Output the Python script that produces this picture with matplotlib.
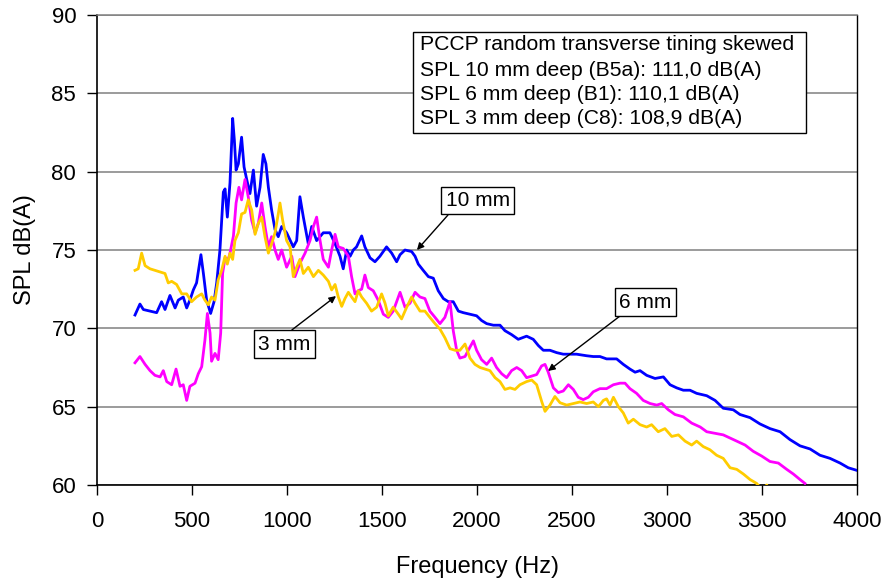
import matplotlib
matplotlib.use("Agg")
import matplotlib.pyplot as plt
from matplotlib.patches import Rectangle

plt.rcParams['font.family'] = ['Liberation Sans', 'DejaVu Sans']

# ---------------- data ----------------
freq_10mm = [200, 226, 244, 279, 314, 340, 358, 384, 411, 428,
             454, 472, 489, 507, 524, 547, 560, 577, 598, 616,
             630, 647, 665, 674, 686, 700, 714, 723, 732, 744,
             761, 774, 788, 805, 823, 840, 858, 875, 889, 902,
             919, 937, 954, 972, 998, 1033, 1051, 1068, 1086, 1112,
             1130, 1156, 1191, 1226, 1253, 1279, 1296, 1314, 1332, 1349,
             1366, 1393, 1410, 1437, 1463, 1489, 1524, 1551, 1577, 1595,
             1621, 1656, 1674, 1691, 1717, 1744, 1770, 1796, 1823, 1849,
             1875, 1902, 1928, 1963, 1998, 2024, 2051, 2086, 2121, 2147,
             2182, 2217, 2261, 2296, 2323, 2349, 2384, 2419, 2454, 2489,
             2524, 2577, 2612, 2647, 2682, 2735, 2770, 2805, 2832, 2858,
             2893, 2937, 2981, 3016, 3051, 3086, 3121, 3156, 3209, 3253,
             3296, 3349, 3384, 3437, 3489, 3542, 3595, 3647, 3700, 3753,
             3805, 3858, 3911, 3954, 3995]
spl_10mm = [70.85, 71.55, 71.2, 71.1, 71.0, 71.7, 71.2, 72.1, 71.3, 71.8,
            72.0, 71.3, 71.8, 72.45, 72.9, 74.7, 73.5, 71.8, 70.95, 71.7,
            72.9, 75.0, 78.7, 78.9, 77.1, 79.3, 83.4, 82.0, 80.1, 80.5,
            82.2, 80.3, 79.5, 78.6, 80.1, 77.8, 79.0, 81.1, 80.5, 79.0,
            77.55, 76.3, 75.85, 76.5, 76.1, 75.2, 75.6, 78.4, 77.1, 75.4,
            76.5, 75.6, 76.1, 76.1, 75.4, 74.6, 73.8, 75.0, 74.6, 75.0,
            75.2, 75.9, 75.2, 74.5, 74.25, 74.6, 75.2, 74.8, 74.25, 74.7,
            75.0, 74.9, 74.6, 74.1, 73.7, 73.3, 73.2, 72.4, 71.9, 71.7,
            71.7, 71.1, 71.0, 70.9, 70.8, 70.5, 70.3, 70.2, 70.2, 69.85,
            69.6, 69.3, 69.5, 69.3, 68.9, 68.6, 68.6, 68.45, 68.35, 68.35,
            68.35, 68.25, 68.2, 68.2, 68.05, 68.05, 67.7, 67.4, 67.2, 67.3,
            67.0, 66.8, 66.9, 66.4, 66.2, 66.05, 66.05, 65.85, 65.7, 65.4,
            64.9, 64.8, 64.5, 64.3, 63.9, 63.6, 63.4, 62.9, 62.5, 62.3,
            61.9, 61.7, 61.4, 61.1, 60.95]

freq_6mm = [200, 226, 253, 279, 305, 332, 349, 367, 393, 416,
            437, 454, 472, 489, 516, 533, 551, 568, 581, 595,
            603, 621, 638, 651, 661, 674, 691, 700, 718, 732,
            747, 761, 779, 796, 814, 832, 849, 867, 884, 902,
            919, 937, 954, 972, 998, 1025, 1042, 1068, 1095, 1121,
            1139, 1156, 1174, 1191, 1218, 1235, 1253, 1270, 1296, 1323,
            1340, 1358, 1375, 1393, 1410, 1428, 1454, 1480, 1507, 1533,
            1559, 1595, 1621, 1647, 1674, 1700, 1726, 1752, 1779, 1805,
            1831, 1858, 1875, 1893, 1910, 1937, 1963, 1981, 1998, 2024,
            2051, 2077, 2103, 2130, 2156, 2182, 2209, 2235, 2261, 2288,
            2314, 2340, 2358, 2375, 2402, 2428, 2454, 2481, 2507, 2533,
            2559, 2586, 2612, 2647, 2682, 2718, 2753, 2779, 2805, 2840,
            2875, 2911, 2946, 2972, 3007, 3042, 3086, 3130, 3175, 3209,
            3253, 3296, 3332, 3367, 3411, 3454, 3498, 3542, 3586, 3630,
            3665, 3700, 3726]
spl_6mm = [67.8, 68.2, 67.7, 67.3, 67.0, 66.9, 67.3, 66.6, 66.4, 67.4,
           66.3, 66.4, 65.4, 66.3, 66.5, 67.1, 67.55, 69.25, 70.95, 69.7,
           67.9, 68.4, 68.0, 69.7, 73.5, 74.5, 74.4, 74.8, 75.9, 78.0,
           79.0, 78.2, 79.5, 78.4, 76.9, 76.1, 76.7, 78.0, 76.5, 75.2,
           75.85, 75.0, 74.4, 75.0, 73.9, 74.6, 73.3, 74.15, 74.8, 75.6,
           76.5, 77.1, 75.6, 74.4, 73.9, 75.0, 76.0, 75.2, 75.1, 74.6,
           73.3, 72.2, 72.4, 72.5, 73.4, 72.6, 72.4, 71.8, 70.9, 70.7,
           71.1, 72.3, 71.35, 71.6, 72.3, 72.0, 71.9, 71.1, 70.7, 70.3,
           70.7, 71.7, 69.85, 68.6, 68.1, 68.2, 68.8, 69.2, 68.6, 68.0,
           67.7, 68.1, 67.5, 67.1, 66.85, 67.3, 67.5, 67.3, 66.85, 66.95,
           67.05, 67.6, 67.7, 67.2, 66.2, 65.9, 66.0, 66.4, 66.1, 65.6,
           65.45, 65.6, 65.95, 66.15, 66.15, 66.4, 66.5, 66.5, 66.15, 65.85,
           65.4, 65.2, 65.1, 65.2, 64.8, 64.5, 64.35, 63.95, 63.7, 63.4,
           63.3, 63.2, 63.0, 62.8, 62.55, 62.15, 61.85, 61.5, 61.4, 61.0,
           60.7, 60.35, 60.1]

freq_3mm = [200, 217, 235, 253, 279, 305, 332, 358, 375, 393,
            419, 446, 472, 498, 524, 551, 568, 586, 603, 621,
            638, 656, 674, 686, 700, 714, 726, 744, 761, 779,
            796, 814, 832, 849, 867, 884, 902, 919, 937, 954,
            963, 977, 998, 1016, 1033, 1051, 1068, 1086, 1112, 1139,
            1165, 1191, 1218, 1235, 1253, 1270, 1288, 1305, 1323, 1340,
            1358, 1375, 1393, 1419, 1445, 1472, 1498, 1516, 1533, 1559,
            1586, 1603, 1630, 1656, 1674, 1700, 1726, 1752, 1779, 1805,
            1831, 1858, 1884, 1910, 1937, 1963, 1989, 2016, 2042, 2068,
            2095, 2121, 2147, 2174, 2200, 2226, 2261, 2288, 2314, 2340,
            2358, 2384, 2410, 2437, 2472, 2507, 2542, 2577, 2612, 2639,
            2665, 2682, 2700, 2718, 2744, 2770, 2796, 2823, 2858, 2893,
            2919, 2954, 2989, 3025, 3060, 3095, 3130, 3156, 3191, 3226,
            3261, 3296, 3332, 3367, 3402, 3437, 3472, 3500, 3525, 3550]
spl_3mm = [73.7, 73.8, 74.8, 74.0, 73.8, 73.7, 73.6, 73.5, 72.9, 73.0,
           72.8, 72.2, 72.2, 71.7, 72.0, 72.2, 71.8, 71.5, 72.0, 71.8,
           73.1, 73.7, 74.6, 74.1, 74.8, 74.4, 75.6, 76.1, 77.3, 77.4,
           78.2, 77.55, 76.0, 76.7, 77.1, 75.85, 74.8, 75.4, 76.1, 77.3,
           78.0, 76.9, 75.6, 75.2, 73.3, 73.9, 74.4, 73.5, 73.9, 73.3,
           73.7, 73.4, 73.0, 72.45, 72.8, 72.0, 71.4, 71.9, 72.3, 72.0,
           71.7, 72.4, 72.0, 71.6, 71.1, 71.35, 72.2, 71.6, 70.8, 71.35,
           70.9, 70.6, 71.35, 72.0, 71.6, 71.1, 71.1, 70.7, 70.3, 69.95,
           69.4, 68.7, 68.6, 68.6, 69.0, 68.1, 67.7, 67.5, 67.4, 67.3,
           66.85, 66.6, 66.1, 66.2, 66.1, 66.4, 66.6, 66.7, 66.4, 65.35,
           64.7, 65.1, 65.65, 65.25, 65.1, 65.2, 65.3, 65.2, 65.3, 65.0,
           65.4, 65.5, 65.1, 65.6, 65.0, 64.6, 63.95, 64.2, 63.85, 63.7,
           63.85, 63.4, 63.6, 63.1, 63.2, 62.8, 62.55, 62.8, 62.45, 62.25,
           61.9, 61.7, 61.1, 61.0, 60.7, 60.35, 60.1, 59.7, 60.0, 59.5]

x_ticks = [0, 500, 1000, 1500, 2000, 2500, 3000, 3500, 4000]
y_ticks = [60, 65, 70, 75, 80, 85, 90]

info_lines = ["PCCP random transverse tining skewed",
              "SPL 10 mm deep (B5a): 111,0 dB(A)",
              "SPL 6 mm deep (B1): 110,1 dB(A)",
              "SPL 3 mm deep (C8): 108,9 dB(A)"]

# labels: (text, box centre, arrow tail, arrow head)
callouts = [("10 mm", (2003, 78.16), (1847, 77.23), (1684, 75.0)),
            ("3 mm", (987, 69.0), (1026, 69.9), (1258, 72.06)),
            ("6 mm", (2887, 71.68), (2753, 70.79), (2374, 67.28))]

# ---------------- figure ----------------
W, H = 886, 585
fig = plt.figure(figsize=(W / 100, H / 100), dpi=100)
ax = fig.add_axes([97 / W, 1 - 485 / H, 760 / W, 470 / H])

ax.plot(freq_10mm, spl_10mm, color='#0000FF', lw=2.0, zorder=3)
ax.plot(freq_6mm, spl_6mm, color='#FF00FF', lw=2.0, zorder=4)
ax.plot(freq_3mm, spl_3mm, color='#FFCC00', lw=2.0, zorder=5)

ax.set_xlim(0, 4000)
ax.set_ylim(60, 90)
ax.set_xticks(x_ticks)
ax.set_yticks(y_ticks)
ax.yaxis.grid(True, color='#808080', lw=1.1)
ax.set_axisbelow(True)

ax.tick_params(axis='both', direction='out', length=7, width=1,
               labelsize=16, colors='black')
ax.tick_params(axis='y', pad=8)
ax.tick_params(axis='x', pad=12)

for s in ['left', 'bottom']:
    ax.spines[s].set_color('black')
    ax.spines[s].set_linewidth(1.2)
ax.spines['top'].set_color('#808080')
ax.spines['top'].set_linewidth(1.1)
ax.spines['right'].set_color('black')
ax.spines['right'].set_linewidth(1.0)

fig.text(477 / W, 1 - 567 / H, "Frequency (Hz)", ha='center', va='center',
         fontsize=17)
fig.text(25 / W, 1 - 250 / H, "SPL dB(A)", ha='center', va='center',
         rotation=90, fontsize=17)

# info box
bx0, bx1 = (413 - 97) / 760, (806 - 97) / 760
by0, by1 = (485 - 133) / 470, (485 - 32) / 470
ax.add_patch(Rectangle((bx0, by0), bx1 - bx0, by1 - by0, transform=ax.transAxes,
                       facecolor='white', edgecolor='black', lw=1.0, zorder=6))
line_py = [45, 70, 95, 119]
for txt, py in zip(info_lines, line_py):
    ax.text((420 - 97) / 760, (485 - py) / 470, txt, transform=ax.transAxes,
            ha='left', va='center', fontsize=15.2, zorder=7)

# call-outs
for txt, centre, tail, head in callouts:
    ax.annotate('', xy=head, xytext=tail,
                arrowprops=dict(arrowstyle='-|>', color='black', lw=1.0,
                                mutation_scale=10, shrinkA=0, shrinkB=0),
                zorder=8)
    ax.text(centre[0], centre[1], txt, ha='center', va='center', fontsize=15,
            zorder=9,
            bbox=dict(boxstyle='square,pad=0.2', facecolor='white',
                      edgecolor='black', lw=1.0))

fig.savefig('out.png', dpi=100)
